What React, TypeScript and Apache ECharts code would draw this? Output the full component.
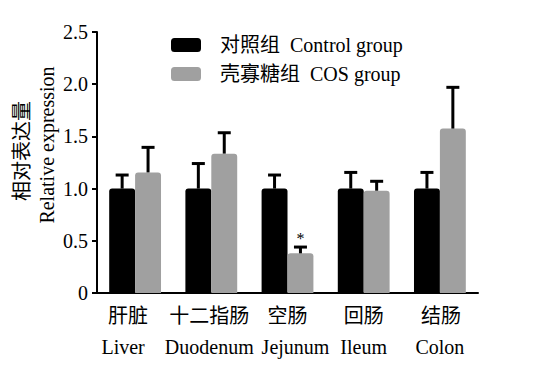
import React, { useEffect, useRef } from "react";
import * as echarts from "echarts";

const cnNames = ["肝脏", "十二指肠", "空肠", "回肠", "结肠"];
const enNames = ["Liver", "Duodenum", "Jejunum", "Ileum", "Colon"];
const controlMean = [1.0, 1.0, 1.0, 1.0, 1.0];
const controlUpper = [1.13, 1.24, 1.13, 1.155, 1.155];
const cosMean = [1.155, 1.335, 0.38, 0.98, 1.575];
const cosUpper = [1.395, 1.535, 0.44, 1.07, 1.97];
const cosSig = ["", "", "*", "", ""];
const yTickLabels = ["0", "0.5", "1.0", "1.5", "2.0", "2.5"];
const controlName = "对照组  Control group";
const cosName = "壳寡糖组  COS group";

const FONT = "Liberation Serif, Noto Sans CJK SC, serif";

function makeErrRenderer(sign: number, sig: string[] | null) {
  return (params: any, api: any) => {
    const idx = api.value(0);
    const val = api.value(1);
    const hi = api.value(2);
    const base = api.coord([idx, val]);
    const top = api.coord([idx, hi]);
    const band = api.size([1, 0])[0];
    const cx = base[0] + (sign * band * 0.34) / 2;
    const children: any[] = [
      {
        type: "line",
        shape: { x1: cx, y1: base[1], x2: cx, y2: top[1] },
        style: { stroke: "#000", lineWidth: 3 },
      },
      {
        type: "line",
        shape: { x1: cx - 6.5, y1: top[1], x2: cx + 6.5, y2: top[1] },
        style: { stroke: "#000", lineWidth: 3 },
      },
    ];
    if (sig && sig[params.dataIndex]) {
      children.push({
        type: "text",
        x: cx,
        y: top[1] - 9,
        style: {
          text: sig[params.dataIndex],
          textAlign: "center",
          textVerticalAlign: "middle",
          fontFamily: FONT,
          fontSize: 16,
          fill: "#000",
        },
      });
    }
    return { type: "group", children };
  };
}

export default function App() {
  const ref = useRef<HTMLDivElement>(null);
  useEffect(() => {
    if (!ref.current) return;
    const chart = echarts.init(ref.current, undefined, { renderer: "svg" });
    // per-label horizontal nudges (style only): [cn padding L, cn padding R, en padding L, en padding R]
    const labelPad = [
      [0, 14, 0, 24],
      [0, 4, 0, 4],
      [0, 0, 16, 0],
      [0, 0, 0, 0],
      [2, 0, 0, 0],
    ];
    const rich: any = {};
    labelPad.forEach((p, i) => {
      rich["c" + i] = { fontFamily: FONT, fontSize: 20, lineHeight: 31, color: "#000", padding: [0, p[1], 0, p[0]] };
      rich["e" + i] = { fontFamily: FONT, fontSize: 20, lineHeight: 31, color: "#000", padding: [0, p[3], 0, p[2]] };
    });
    chart.setOption({
      animation: false,
      backgroundColor: "#fff",
      textStyle: { fontFamily: FONT },
      grid: { left: 97, right: 67, top: 32, bottom: 73 },
      legend: {
        orient: "vertical",
        left: 171,
        top: 35,
        padding: 0,
        itemWidth: 30,
        itemHeight: 14,
        itemGap: 9,
        icon: "roundRect",
        data: [controlName, cosName],
        textStyle: {
          fontFamily: FONT,
          fontSize: 20,
          lineHeight: 20,
          color: "#000",
          padding: [0, 0, 0, 14],
        },
      },
      xAxis: {
        type: "category",
        data: cnNames,
        axisLine: { lineStyle: { color: "#000", width: 2 } },
        axisTick: { alignWithLabel: true, length: 5, lineStyle: { color: "#000", width: 2 } },
        axisLabel: {
          fontFamily: FONT,
          fontSize: 20,
          lineHeight: 31,
          color: "#000",
          margin: 7,
          interval: 0,
          formatter: (v: string, i: number) => `{c${i}|${v}}\n{e${i}|${enNames[i]}}`,
          rich,
        },
      },
      yAxis: {
        type: "value",
        min: 0,
        max: 2.5,
        interval: 0.5,
        splitLine: { show: false },
        axisLine: { show: true, lineStyle: { color: "#000", width: 2 } },
        axisTick: { show: true, length: 5, lineStyle: { color: "#000", width: 2 } },
        axisLabel: {
          fontFamily: FONT,
          fontSize: 20,
          color: "#000",
          margin: 9,
          formatter: (v: number) => yTickLabels[Math.round(v / 0.5)] ?? String(v),
        },
      },
      graphic: [
        {
          type: "text",
          x: 22,
          y: 151,
          rotation: Math.PI / 2,
          style: {
            text: "相对表达量",
            textAlign: "center",
            textVerticalAlign: "middle",
            fontFamily: FONT,
            fontSize: 20,
            fill: "#000",
          },
        },
        {
          type: "text",
          x: 47,
          y: 145,
          rotation: Math.PI / 2,
          style: {
            text: "Relative expression",
            textAlign: "center",
            textVerticalAlign: "middle",
            fontFamily: FONT,
            fontSize: 20,
            fill: "#000",
          },
        },
      ],
      series: [
        {
          name: controlName,
          type: "bar",
          data: controlMean,
          barWidth: "34%",
          barGap: "0%",
          itemStyle: { color: "#000", borderRadius: [3, 3, 0, 0] },
        },
        {
          name: cosName,
          type: "bar",
          data: cosMean,
          barWidth: "34%",
          barGap: "0%",
          itemStyle: { color: "#a0a0a0", borderRadius: [3, 3, 0, 0] },
        },
        {
          type: "custom",
          name: "controlErr",
          renderItem: makeErrRenderer(-1, null),
          encode: { x: 0, y: [1, 2] },
          data: controlMean.map((v, i) => [i, v, controlUpper[i]]),
          z: 5,
        },
        {
          type: "custom",
          name: "cosErr",
          renderItem: makeErrRenderer(1, cosSig),
          encode: { x: 0, y: [1, 2] },
          data: cosMean.map((v, i) => [i, v, cosUpper[i]]),
          z: 5,
        },
      ],
    });
    return () => chart.dispose();
  }, []);
  return (
    <div
      ref={ref}
      style={{ position: "fixed", left: 0, top: 0, width: 545, height: 366 }}
    />
  );
}
